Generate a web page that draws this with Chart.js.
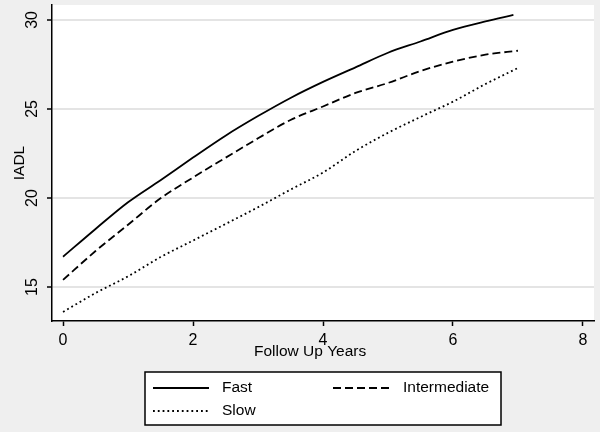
<!DOCTYPE html>
<html>
<head>
<meta charset="utf-8">
<script src="https://cdn.jsdelivr.net/npm/chart.js@4.4.1/dist/chart.umd.min.js"></script>
<style>
  html, body { margin: 0; padding: 0; background: #efefef; }
</style>
</head>
<body>
<canvas id="chart" width="600" height="432"></canvas>
<script>
// values
const years = [0, 0.5, 1, 1.5, 2, 2.5, 3, 3.5, 4, 4.5, 5, 5.5, 6, 6.5, 7];
const fastYears = [0, 0.5, 1, 1.5, 2, 2.5, 3, 3.5, 4, 4.5, 5, 5.5, 6, 6.5, 6.93];
const fast = [16.7, 18.26, 19.76, 21.0, 22.27, 23.5, 24.6, 25.62, 26.52, 27.34, 28.16, 28.79, 29.44, 29.92, 30.28];
const intermediate = [15.4, 17.02, 18.5, 19.98, 21.15, 22.26, 23.35, 24.38, 25.14, 25.9, 26.46, 27.13, 27.66, 28.05, 28.27];
const slow = [13.6, 14.66, 15.6, 16.68, 17.61, 18.54, 19.48, 20.47, 21.43, 22.64, 23.66, 24.55, 25.41, 26.4, 27.3];
const xTicks = [0, 2, 4, 6, 8];
const yTicks = [15, 20, 25, 30];

const FONT = "'Liberation Sans', Arial, sans-serif";
const pts = (xs, ys) => xs.map((x, i) => ({ x, y: ys[i] }));

const background = {
  id: 'background',
  beforeDraw(chart) {
    const { ctx, chartArea: a } = chart;
    ctx.save();
    ctx.fillStyle = '#efefef';
    ctx.fillRect(0, 0, chart.width, chart.height);
    ctx.fillStyle = '#ffffff';
    ctx.fillRect(a.left, a.top, a.right - a.left, a.bottom - a.top);
    ctx.restore();
  }
};

// Stata-style boxed legend, two columns
const boxLegend = {
  id: 'boxLegend',
  afterDraw(chart, args, o) {
    const { ctx } = chart;
    ctx.save();
    ctx.fillStyle = '#ffffff';
    ctx.fillRect(o.x, o.y, o.w, o.h);
    ctx.strokeStyle = '#000';
    ctx.lineWidth = 1.5;
    ctx.strokeRect(o.x, o.y, o.w, o.h);
    ctx.font = o.font;
    ctx.textBaseline = 'middle';
    ctx.fillStyle = '#000';
    chart.data.datasets.forEach((ds, i) => {
      const col = i % 2, row = Math.floor(i / 2);
      const sx = o.cols[col], sw = o.sampleW[col], ty = o.rows[row];
      ctx.setLineDash(ds.borderDash || []);
      ctx.lineWidth = ds.borderWidth;
      ctx.beginPath();
      ctx.moveTo(sx, ty);
      ctx.lineTo(sx + sw, ty);
      ctx.stroke();
      ctx.setLineDash([]);
      ctx.fillText(ds.label, o.textX[col], ty);
    });
    ctx.restore();
  }
};

const line = (label, data, dash) => ({
  label, data, borderDash: dash,
  borderColor: '#000', borderWidth: 1.8,
  pointRadius: 0, cubicInterpolationMode: 'monotone', fill: false
});

const noOverhang = s => { s.paddingTop = 0; s.paddingBottom = 0; s.paddingLeft = 0; s.paddingRight = 0; };

new Chart(document.getElementById('chart'), {
  type: 'line',
  data: {
    datasets: [
      line('Fast', pts(fastYears, fast), []),
      line('Intermediate', pts(years, intermediate), [8, 4]),
      line('Slow', pts(years, slow), [1.8, 3])
    ]
  },
  options: {
    responsive: false,
    animation: false,
    devicePixelRatio: 1,
    layout: { padding: { left: 0, right: 6, top: 5, bottom: 62 } },
    plugins: {
      legend: { display: false },
      tooltip: { enabled: false },
      boxLegend: {
        x: 145, y: 372, w: 356, h: 53,
        rows: [388, 411],
        cols: [153, 333], sampleW: [56, 60], textX: [222, 403],
        font: "15.5px " + FONT
      }
    },
    scales: {
      x: {
        type: 'linear', min: -0.17, max: 8.17,
        afterBuildTicks: s => { s.ticks = xTicks.map(v => ({ value: v })); },
        afterFit: s => { s.height = 49; noOverhang(s); },
        grid: { drawOnChartArea: false, tickLength: 5, tickColor: '#000', tickWidth: 1.5 },
        border: { color: '#000', width: 1.5 },
        ticks: { color: '#000', font: { family: FONT, size: 16 }, padding: 5, maxRotation: 0 },
        // trailing no-break spaces nudge the title a bit left of the plot centre, as in the original
        title: { display: true, text: 'Follow Up Years' + '\u00a0'.repeat(6), color: '#000',
                 font: { family: FONT, size: 15.5 }, padding: { top: 0, bottom: 9 } }
      },
      y: {
        min: 13.09, max: 30.84,
        afterBuildTicks: s => { s.ticks = yTicks.map(v => ({ value: v })); },
        afterFit: s => { s.width = 52; noOverhang(s); },
        grid: { color: '#e4e4e4', lineWidth: 2, tickLength: 5, tickColor: '#000', tickWidth: 1.5 },
        border: { color: '#000', width: 1.5 },
        ticks: { color: '#000', font: { family: FONT, size: 16 }, padding: 6,
                 minRotation: 90, maxRotation: 90, crossAlign: 'center' },
        title: { display: true, text: 'IADL', color: '#000',
                 font: { family: FONT, size: 15.5 }, padding: { top: 10, bottom: 0 } }
      }
    }
  },
  plugins: [background, boxLegend]
});
</script>
</body>
</html>
